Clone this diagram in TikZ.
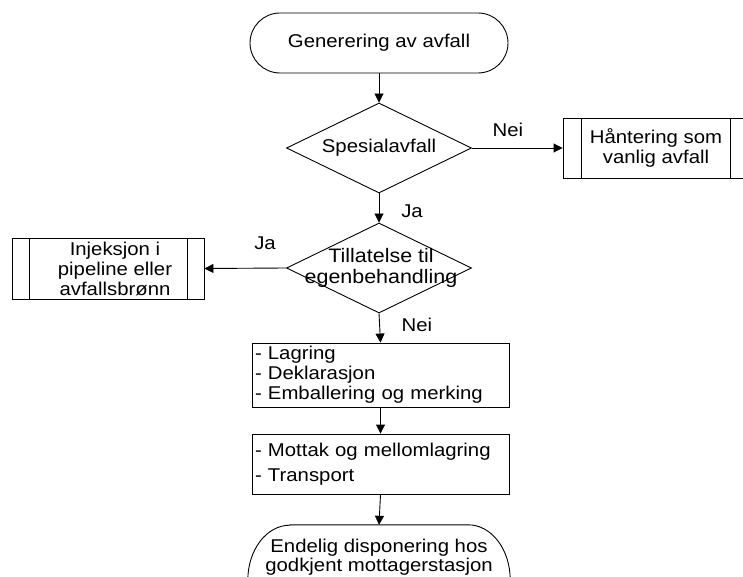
\documentclass[tikz,border=0pt]{standalone}
\usepackage{fontspec}
\setmainfont[FakeStretch=1.1]{Liberation Sans}
\usetikzlibrary{shapes.geometric,shapes.misc,arrows.meta,calc}
\begin{document}
\begin{tikzpicture}[x=1pt,y=1pt,
  every node/.style={font=\fontsize{18.5}{20}\selectfont},
  ln/.style={line width=0.9pt},
  arr/.style={line width=0.9pt,-{Triangle[length=9pt,width=9pt]}},
  term/.style={draw,line width=0.9pt,rounded rectangle,minimum width=258pt,minimum height=60pt,inner sep=0pt},
  dia/.style={draw,line width=0.9pt,diamond,minimum width=185pt,minimum height=90pt,inner sep=0pt},
  proc/.style={draw,line width=0.9pt,rectangle,inner sep=0pt},
  txt/.style={inner sep=0pt,align=center},
  lbl/.style={inner sep=0pt}
]
\clip (0,0) rectangle (743,576);
\fill[white] (0,0) rectangle (743,576);

% top terminal
\node[term] (gen) at (379,533) {Generering av avfall};

% first decision
\node[dia] (spec) at (379,428) {};
\node[txt] (spect) at (spec) {Spesialavfall};

% right predefined process
\node[proc,minimum width=186pt,minimum height=60pt] (hant) at (656,428) {};
\node[txt] (hantt) at (656,428) {Håntering som\\vanlig avfall};
\draw[ln] ([xshift=19pt]hant.north west) -- ([xshift=19pt]hant.south west);
\draw[ln] ([xshift=-19pt]hant.north east) -- ([xshift=-19pt]hant.south east);

% second decision
\node[dia] (till) at (379,308) {};
\node[txt,font=\fontsize{19.5}{21}\selectfont] (tillt) at (381,308) {Tillatelse til\\egenbehandling};

% left predefined process
\node[proc,minimum width=192pt,minimum height=61pt] (inj) at (108,307.5) {};
\node[txt] (injt) at (115,307.5) {Injeksjon i\\pipeline eller\\avfallsbrønn};
\draw[ln] ([xshift=18pt]inj.north west) -- ([xshift=18pt]inj.south west);
\draw[ln] ([xshift=-17pt]inj.north east) -- ([xshift=-17pt]inj.south east);

% process boxes
\node[proc,minimum width=257pt,minimum height=64pt,text width=251pt,inner xsep=3pt,align=left] (box1) at (380.5,201)
  {- Lagring\\- Deklarasjon\\- Emballering og merking};
\node[proc,minimum width=257pt,minimum height=60pt,text width=251pt,inner xsep=3pt,align=left] (box2) at (380.5,112)
  {- Mottak og mellomlagring\\[5pt]- Transport};

% final terminal
\node[minimum width=262pt,minimum height=110pt,inner sep=0pt] (end) at (379,-4) {};
\draw[ln] ($(end.north west)+(42,0)$) -- ($(end.north east)+(-42,0)$)
  arc[start angle=90,end angle=-90,x radius=42,y radius=55]
  -- ($(end.south west)+(42,0)$)
  arc[start angle=270,end angle=90,x radius=42,y radius=55] -- cycle;
\node[txt,font=\fontsize{18.5}{19}\selectfont] (endt) at (379,19) {Endelig disponering hos\\godkjent mottagerstasjon};

% connectors
\draw[arr] (gen.south) -- (spec.north);
\draw[arr] (spec.east) -- (hant.west);
\draw[arr] (spec.south) -- (till.north);
\draw[arr] (till.west) -- (inj.east);
\draw[arr] (till.south) -- (box1.north);
\draw[arr] (box1.south) -- (box2.north);
\draw[arr] (box2.south) -- (end.north);

% labels
\node[lbl] (nei1) at (508,446) {Nei};
\node[lbl] (ja1) at (412,365) {Ja};
\node[lbl] (ja2) at (265,333) {Ja};
\node[lbl] (nei2) at (417,251) {Nei};
\end{tikzpicture}
\end{document}
